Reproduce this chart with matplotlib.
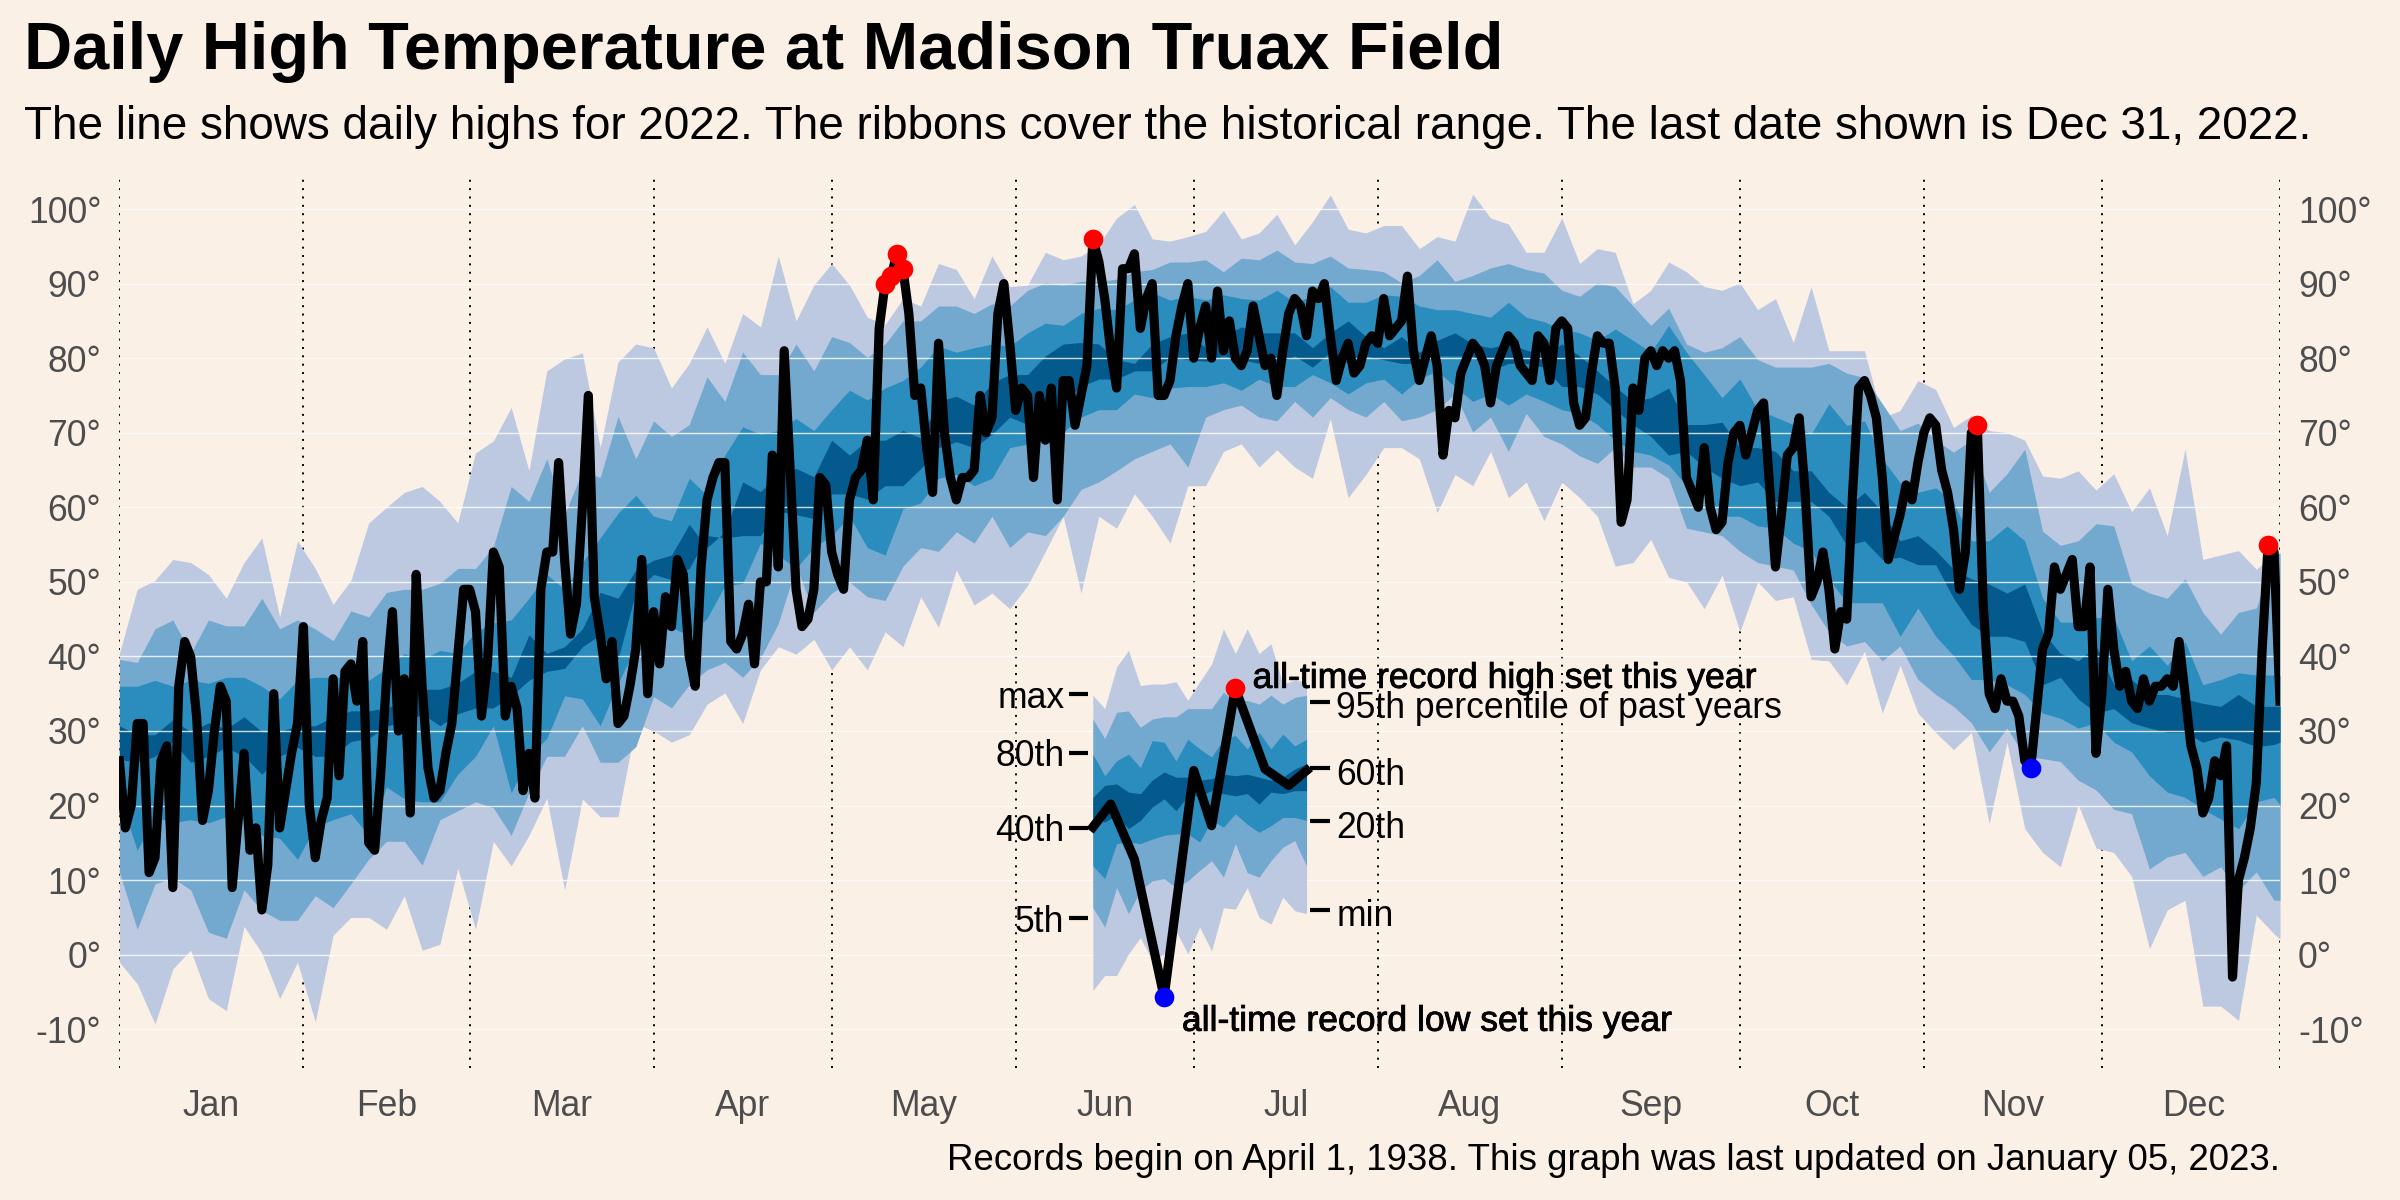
import numpy as np
import matplotlib
matplotlib.use("Agg")
import matplotlib.pyplot as plt
import matplotlib.patheffects as pe

plt.rcParams['font.family'] = ['Liberation Sans', 'DejaVu Sans']

BG = "linen"
COL_RANGE, COL_90, COL_60, COL_20 = "#bdc9e1", "#74a9cf", "#2b8cbe", "#045a8d"

month_names = ["Jan", "Feb", "Mar", "Apr", "May", "Jun", "Jul", "Aug", "Sep", "Oct", "Nov", "Dec"]
month_lengths = [31, 28, 31, 30, 31, 30, 31, 31, 30, 31, 30, 31]
y_ticks = [-10, 0, 10, 20, 30, 40, 50, 60, 70, 80, 90, 100]

# daily highs for 2022
high_2022 = [
    26, 17, 20, 31, 31, 11, 13, 26, 28, 9, 36, 42, 40, 32, 18, 22, 30, 36, 34, 9,
    18, 27, 14, 17, 6, 12, 35, 17, 22, 27, 31, 44, 20, 13, 18, 21, 37, 24, 38, 39,
    34, 42, 15, 14, 24, 37, 46, 30, 37, 19, 51, 36, 25, 21, 22, 27, 31, 40, 49, 49,
    46, 32, 39, 54, 52, 32, 36, 33, 22, 27, 21, 49, 54, 54, 66, 53, 43, 47, 60, 75,
    48, 43, 37, 42, 31, 32, 36, 41, 53, 35, 46, 39, 48, 44, 53, 51, 40, 36, 52, 61,
    64, 66, 66, 42, 41, 43, 47, 39, 50, 50, 67, 52, 81, 65, 49, 44, 45, 49, 64, 63,
    54, 51, 49, 61, 64, 65, 69, 61, 84, 90, 91, 94, 92, 86, 75, 76, 68, 62, 82, 70,
    64, 61, 64, 64, 65, 75, 70, 72, 86, 90, 82, 73, 76, 75, 64, 75, 69, 76, 61, 77,
    77, 71, 75, 79, 96, 93, 88, 81, 76, 92, 92, 94, 84, 88, 90, 75, 75, 77, 83, 87,
    90, 80, 84, 87, 80, 89, 81, 85, 80, 79, 81, 87, 83, 79, 80, 75, 81, 86, 88, 87,
    83, 89, 88, 90, 83, 77, 80, 82, 78, 79, 82, 83, 82, 88, 83, 84, 85, 91, 81, 77,
    80, 83, 79, 67, 73, 72, 78, 80, 82, 81, 79, 74, 79, 81, 83, 82, 79, 78, 77, 83,
    82, 77, 84, 85, 84, 74, 71, 72, 78, 83, 82, 82, 76, 58, 61, 76, 73, 80, 81, 79,
    81, 80, 81, 77, 64, 62, 60, 68, 60, 57, 58, 66, 70, 71, 67, 70, 73, 74, 63, 52,
    59, 67, 68, 72, 62, 48, 50, 54, 49, 41, 46, 45, 62, 76, 77, 75, 72, 64, 53, 56,
    59, 63, 61, 66, 70, 72, 71, 65, 62, 57, 49, 54, 70, 71, 47, 35, 33, 37, 34, 34,
    32, 26, 25, 33, 41, 43, 52, 49, 51, 53, 44, 44, 52, 27, 35, 49, 41, 36, 38, 34,
    33, 37, 34, 36, 36, 37, 36, 42, 35, 28, 25, 19, 21, 26, 24, 28, -3, 10, 13, 17,
    23, 41, 55, 54, 34,
]
record_high_days = [129, 130, 131, 132, 164, 313, 362]
record_low_days = [322]

# historical bands, read every third day
band_days = list(range(0, 364, 3)) + [364]
hist_max = [
    40.4, 49, 50.2, 53, 52.6, 51, 47.8, 52.6, 55.9, 45.3, 55.5, 51.8, 47, 50.2, 57.9, 60, 62, 62.8, 60.8, 57.9,
    67.3, 68.9, 73.4, 64.9, 78.3, 79.9, 80.7, 68, 79.5,
    81.9, 81.4, 76, 79.3, 84.2, 79.3, 86, 84.2, 93.7, 85, 89.8, 92.7, 89.8, 85.5, 84.5, 88, 87, 92.7, 91.9, 88,
    93.7, 89.6, 89.8, 94.2, 93.2, 93.7, 95.2, 98.8, 100.6, 96, 95.7, 96.3, 97,
    99.8, 96, 96.8, 99.3, 95.2, 98.3, 101.9, 97.3, 96.8, 97.8, 97.8, 94.7, 96.3, 95.7, 102, 98.8, 98, 94.2, 94.2,
    98.8, 92.7, 94.7, 94.2, 87.3, 89.1, 92.9, 91.6, 89.6, 89.1, 90.1, 86.5, 88, 82.1, 89.6,
    81, 81, 81, 72, 73, 77, 75.8, 70.7, 72.3, 70.3, 70, 69, 64.2, 63.9, 64.9, 62.3, 64.5, 59.4, 62.6, 56.2, 67.8,
    53, 53.6, 54.2, 51.7, 53.6, 53.6,
]
hist_p95 = [
    39.6, 39.2, 43.7, 44.9, 40.4, 44.9, 44.1, 44.1, 47.8, 43.7, 44.9, 43.7, 42.1, 46.1, 45.3, 48.6, 49, 49, 49.8,
    51.8, 51.8, 54.7, 62.8, 60.8, 66.5, 59, 64.9, 64, 72.2,
    66.5, 71.6, 69.5, 71.1, 77.5, 74.2, 80.8, 77.8, 77.8, 81.9, 78.3, 82.9, 82.1, 80.1, 81.9, 85, 85, 87, 87,
    86, 87.3, 87, 89.1, 90.1, 89.8, 90.3, 90.3, 90.6, 91.6, 91.9, 92.9, 92.9, 93.2,
    91.6, 93.4, 93.2, 94.5, 92.9, 92.7, 93.7, 92.1, 91.9, 91.6, 90.1, 91.1, 93.2, 90.3, 91.1, 92.1, 92.7, 91.9, 91.4,
    89.1, 88.3, 90.1, 89.6, 87, 84.4, 86.7, 81.9, 80.8, 81.4, 82.9, 79.8, 78.8, 78.8, 78.8,
    79.3, 78, 77.4, 73.9, 70.3, 71.3, 69, 67.4, 69, 62, 64.5, 67.8, 56.8, 54.9, 55.5, 57.8, 57.5, 49.7, 48.5, 47.8,
    50.4, 45.9, 43, 45.9, 46.5, 53.6, 53.9,
]
hist_p80 = [
    36, 36, 36.8, 36, 36.8, 36.4, 37.2, 37.2, 36, 34.3, 36.8, 37.2, 37.2, 37.2, 36.8, 38.4, 40.4, 39.6, 40.8, 40.4,
    43.3, 44.5, 44.9, 47.8, 51, 49, 52.6, 55.9, 59.2,
    61.6, 58.8, 58.2, 63.9, 61.6, 67, 70.8, 69.8, 70.3, 71.9, 70.3, 73.1, 75.7, 74.4, 76, 77, 78.8, 81.6, 80.8, 81.4,
    81.9, 81.6, 83.4, 84.7, 84.4, 86, 86.7, 86.5, 87.8, 88.8, 87.8, 88.3, 87.8,
    88.5, 88, 87.8, 89.1, 87.5, 88.3, 89.6, 87.5, 87.5, 88.5, 88.3, 87, 86.5, 86.5, 86, 85.5, 87.5, 85.5, 84.9, 83.9,
    83.4, 82.4, 83.9, 82.4, 80.8, 84.4, 80.8, 77.8, 74.7, 77.2, 73.1, 72.1, 71.1, 69.8,
    73.9, 71, 71.6, 66.5, 63.3, 62, 62.6, 60.7, 55.5, 55.5, 57.5, 55.5, 47.8, 44.6, 44.6, 45.2, 45.2, 39.4, 41.4, 38.8,
    42, 36.2, 36.9, 37.8, 37.5, 37.5, 37.5,
]
hist_p60 = [
    30.7, 29.5, 29.5, 31.5, 29.9, 31.1, 30.3, 31.9, 29.9, 29.9, 30.7, 30.7, 31.9, 32.7, 32.7, 33.1, 33.9, 35.6, 35.6,
    36.4, 38, 38, 37.2, 42.9, 40.4, 41.3, 43.7, 48.6, 47.8,
    51.6, 52.9, 53.6, 57.7, 54.6, 56.7, 63.4, 62.1, 64.4, 65.2, 64.1, 69, 67, 69, 69, 70.3, 69.3, 74.2, 74.9, 73.7,
    76.7, 77.8, 77.8, 80.3, 81.9, 82.1, 81.9, 79.8, 79.3, 81.9, 82.9, 83.4, 81.4,
    82.9, 84.2, 83.4, 83.4, 83.4, 81.4, 83.4, 85, 82.9, 81.4, 82.9, 80.8, 82.4, 83.4, 81.9, 81.4, 81.9, 81.1, 80.3,
    81.9, 80.3, 78.3, 76.2, 74.2, 74.7, 76, 71.1, 71.1, 71.4, 68, 68, 67.5, 64.9, 64.9,
    62, 60, 62, 59.4, 55.5, 56.2, 54.2, 51.7, 50.4, 49.7, 48.5, 49.7, 43.3, 40.4, 39.4, 41.4, 36.2, 36.9, 34.9, 34.9,
    34.3, 33.7, 33.3, 34.9, 33.3, 33.3, 33.3,
]
hist_p40 = [
    26.2, 25.8, 26.6, 28.6, 25.8, 26.6, 27.8, 26.6, 24.2, 26.6, 27.8, 26.6, 26.6, 28.6, 29, 30.7, 31.1, 32.3, 30.7,
    32.3, 33.1, 33.1, 34.7, 36.8, 38, 38.4, 41.3, 42.9, 39.6,
    48.7, 51, 50.3, 51.8, 56.2, 55.9, 56.2, 56.2, 59.5, 59, 58.5, 61.8, 61.8, 61.1, 62.9, 62.9, 65.2, 68, 68.8, 68,
    69.8, 72.1, 71.1, 71.6, 74.2, 76.2, 77.2, 77.2, 78.3, 78.3, 80.1, 79.8, 79.6,
    80.3, 79.8, 79.3, 79.3, 80.3, 78.8, 80.8, 79.3, 80.3, 79.8, 79.3, 79.3, 80.3, 80.3, 80.3, 78.3, 79.3, 79.3, 78.8,
    76.2, 76.2, 75.2, 73.1, 71.1, 69.5, 67, 67.5, 65.4, 63.9, 62.9, 63.4, 60.8, 60.8, 60.8,
    58.8, 54.9, 55.5, 53, 53.3, 52.3, 52.3, 47.8, 44.3, 42.7, 42.7, 42, 36.2, 37.2, 34.3, 32.4, 33, 31.1, 30.4, 29.8,
    29.8, 28.5, 29.2, 28.8, 27.9, 28.2, 28.5,
]
hist_p20 = [
    21.3, 14, 18.5, 17.7, 18.1, 17.7, 18.5, 18.1, 16, 15.6, 12.8, 17.2, 18.1, 18.9, 16, 22.5, 20.9, 20.5, 20.5, 24.2,
    26.6, 30.7, 21.7, 26.6, 29, 34.7, 34.3, 30.7, 36.4,
    41.3, 44.9, 43.9, 42.8, 45.1, 49.5, 49.8, 55.2, 53.6, 51.8, 54.6, 56.2, 58.8, 54.6, 53.6, 59.8, 60.6, 63.9, 64.4,
    62.9, 63.9, 68, 68.5, 69, 70.1, 72.1, 73.1, 73.1, 75.2, 74.7, 76, 76.2, 76.2,
    76.7, 75.7, 77.2, 76.2, 76.2, 77.8, 76.7, 75.2, 76.7, 77.2, 75.2, 77.2, 78.3, 76.2, 74.2, 75.2, 73.7, 75.2, 74.2,
    73.1, 72.6, 71.1, 69, 67.5, 67, 65.7, 62.9, 62.4, 58.8, 58.8, 57.5, 57.2, 55.2, 54.1,
    50.4, 47.2, 47.2, 47.2, 42.7, 46.5, 42.7, 40.1, 36.9, 36.9, 36.2, 34.9, 32.4, 31.7, 30.4, 31.1, 28.5, 27.2, 24,
    21.8, 21.1, 19.5, 18.2, 16.9, 20.5, 21.1, 20.1,
]
hist_p5 = [
    11.1, 3.4, 9.5, 10.3, 8.7, 3, 2.2, 8.7, 5.9, 4.6, 4.6, 7.9, 6.3, 9.5, 12.8, 15.2, 15.2, 12, 18.1, 19.3, 20.5, 19.7,
    16, 21.7, 26.6, 26.6, 30.7, 25.8, 25.8,
    27.9, 34.6, 33.1, 36.2, 38.2, 39.2, 37.2, 39.8, 44.4, 52.1, 45.9, 48.5, 50, 48, 47.5, 52.1, 54.6, 54.1, 56.7, 55.2,
    58.8, 54.6, 56.7, 56.2, 58.8, 62.4, 63.4, 64.9, 66.5, 67.5, 68.5, 65.4, 72.1,
    73.1, 73.7, 72.1, 71.6, 74.2, 72.1, 74.7, 73.1, 72.1, 74.2, 71.6, 72.1, 73.1, 75.2, 70.1, 72.1, 67.5, 72.6, 69.5,
    68.5, 66.9, 65.9, 68, 65.4, 65.4, 63.9, 57.2, 56.7, 56.2, 54.1, 52.6, 52.1, 51.6, 47,
    43.3, 41.4, 42, 39.4, 41.4, 36.9, 34.9, 33.3, 31.1, 27.2, 30.4, 26.6, 26.3, 25.9, 23.4, 22.1, 19.5, 18.9, 11.5,
    13.1, 13.7, 10.5, 11.8, 8.6, 11.1, 7.3, 7.3,
]
hist_min = [
    -1, -3.9, -9.3, -1.9, 0.6, -5.9, -7.5, 3.8, 0.2, -5.9, -1, -9, 2.6, 5, 5, 3.4, 7.9, 0.6, 1.4, 11.6, 3.4, 15.2, 11.9,
    16, 21, 8.7, 20.9, 18.5, 18.5,
    31, 30, 28.5, 29.5, 33.6, 35.1, 31, 38.2, 41.3, 40.3, 42.3, 38.2, 41.3, 38.2, 43.3, 41.3, 48, 43.9, 51.6, 46.9,
    48.5, 46.4, 49.5, 54.1, 58.8, 48.5, 58.8, 57.2, 61.8, 58.8, 55.2, 62.9, 62.9,
    67.5, 68.5, 65.4, 67.7, 65.4, 63.9, 71.9, 61.3, 64.4, 68, 68, 66.5, 59.3, 64.4, 62.9, 67.5, 61.3, 63.4, 58.2, 63.4,
    61.3, 58.8, 52.1, 52.6, 55.7, 50.6, 50, 46.4, 50.9, 43.3, 50, 47.5, 48, 39.6,
    39.4, 36.2, 40.7, 32.4, 38.8, 32.4, 29.8, 27.5, 29.8, 17.6, 28.5, 16.9, 13.7, 11.8, 20.1, 14.3, 13.7, 10.5, 0.8, 6,
    7.3, -6.9, -6.9, -8.8, 5.3, 2.8, 2.1,
]

# legend in the middle of the plot
key_days = list(range(164, 201, 2))
key_max = [34.8, 33, 38.6, 40.8, 36.1, 36.3, 36.3, 36.6, 34.1, 36.6, 39, 43.7, 40.4, 43.7, 40.4, 41.7, 36.3, 36.8, 36.6]
key_p95 = [31.6, 29, 32.5, 32.7, 30.5, 31.6, 31.9, 31.9, 33, 33, 33, 35.2, 33.9, 34.1, 33.6, 34.8, 33.6, 34.5, 34.8]
key_p80 = [26.9, 24, 26, 26.9, 25.1, 28.7, 28.5, 26, 28.9, 27.6, 26.5, 28.9, 29.4, 27.6, 29.8, 27.6, 29.6, 28, 28.9]
key_p60 = [21.1, 22.7, 22.9, 21.8, 21.6, 23.4, 24.5, 23.8, 23.8, 23.4, 23.6, 24.2, 24, 24.2, 23.8, 23.4, 23.8, 24.9, 25.6]
key_p40 = [18.4, 17.8, 18.7, 16.9, 18, 19.8, 20.9, 19.3, 21.3, 21.3, 22, 21.6, 21.3, 21.6, 20.2, 21.8, 21.6, 22, 22]
key_p20 = [11.9, 10.2, 14.9, 15.1, 14.9, 15.5, 16, 16.2, 16.2, 15.1, 18, 17.1, 18.9, 17.5, 16.4, 17.3, 18.4, 18.4, 18]
key_p5 = [6.3, 3.7, 9, 5.5, 8.6, 9.9, 10.2, 9, 9.9, 11.3, 12.6, 10.4, 14.9, 11, 10.4, 12.6, 14.4, 15.3, 11.9]
key_min = [-4.8, -2.8, -2.8, 0.1, 2.3, -0.8, 0.1, 3.2, 0.1, 3.7, 0.5, 6.3, 6.1, 9, 5, 4.1, 7.7, 5.9, 5.5]
key_line_days = [164, 167, 171, 176, 181, 184, 188, 193, 197, 200]
key_line_vals = [17.1, 20.2, 12.8, -5.7, 24.7, 17.3, 35.7, 24.9, 22.7, 24.7]
key_left_labels = ["max", "80th", "40th", "5th"]
key_left_y = [34.9, 27.1, 17, 4.9]
key_right_labels = ["95th percentile of past years", "60th", "20th", "min"]
key_right_y = [33.9, 25, 17.9, 6]

fig = plt.figure(figsize=(12, 6), dpi=200, facecolor=BG)
ax = fig.add_axes([119.4 / 2400, 1 - 1068 / 1200, (2280 - 119.4) / 2400, (1068 - 177) / 1200])
ax.set_facecolor(BG)

# month boundaries sit under everything
month_starts = np.concatenate([[0], np.cumsum(month_lengths)[:-1]])
for d in list(month_starts) + [364]:
    ax.axvline(d, color="black", lw=0.7, ls=(0, (1, 3.3)), zorder=1)

ax.fill_between(band_days, hist_min, hist_max, color=COL_RANGE, lw=0, zorder=2)
ax.fill_between(band_days, hist_p5, hist_p95, color=COL_90, lw=0, zorder=2.1)
ax.fill_between(band_days, hist_p20, hist_p80, color=COL_60, lw=0, zorder=2.2)
ax.fill_between(band_days, hist_p40, hist_p60, color=COL_20, lw=0, zorder=2.3)

for v in y_ticks:
    ax.axhline(v, color="white", lw=0.5, alpha=0.8, zorder=3)

# legend
ax.fill_between(key_days, key_min, key_max, color=COL_RANGE, lw=0, zorder=4)
ax.fill_between(key_days, key_p5, key_p95, color=COL_90, lw=0, zorder=4.1)
ax.fill_between(key_days, key_p20, key_p80, color=COL_60, lw=0, zorder=4.2)
ax.fill_between(key_days, key_p40, key_p60, color=COL_20, lw=0, zorder=4.3)
ax.plot(key_line_days, key_line_vals, color="black", lw=3.3, solid_joinstyle="round", zorder=5)
ax.scatter(key_line_days[6], key_line_vals[6], s=50, color="red", lw=0, zorder=6)
ax.scatter(key_line_days[3], key_line_vals[3], s=50, color="blue", lw=0, zorder=6)

for lab, v in zip(key_left_labels, key_left_y):
    ax.plot([160, 163.2], [v, v], color="black", lw=1.5, zorder=5, solid_capstyle="butt")
    ax.text(159.2, v, lab, ha="right", va="center_baseline", fontsize=12.8, color="black", zorder=7)
for lab, v in zip(key_right_labels, key_right_y):
    ax.plot([200.6, 203.9], [v, v], color="black", lw=1.5, zorder=5, solid_capstyle="butt")
    ax.text(205, v - 0.4, lab, ha="left", va="center_baseline", fontsize=12.8, color="black", zorder=7)

bold_ish = [pe.withStroke(linewidth=0.3, foreground="black")]
ax.text(190.9, 37.6, "all-time record high set this year", ha="left", va="center_baseline", fontsize=12.8,
        color="black", zorder=7, path_effects=bold_ish)
ax.text(179, -8.4, "all-time record low set this year", ha="left", va="center_baseline", fontsize=12.8,
        color="black", zorder=7, path_effects=bold_ish)

# this year's line and records
ax.plot(range(len(high_2022)), high_2022, color="black", lw=3.3, solid_joinstyle="round", zorder=8)
ax.scatter(record_high_days, [high_2022[d] for d in record_high_days], s=50, color="red", lw=0, zorder=9, clip_on=False)
ax.scatter(record_low_days, [high_2022[d] for d in record_low_days], s=50, color="blue", lw=0, zorder=9, clip_on=False)

ax.set_xlim(0, 364)
ax.set_ylim(-15.2, 104.3)
ax.set_yticks(y_ticks)
ax.set_yticklabels([f"{v}°" for v in y_ticks])
ax.set_xticks(month_starts + np.array(month_lengths) / 2)
ax.set_xticklabels(month_names)
ax.tick_params(axis="y", length=0, labelleft=True, labelright=True, labelsize=12.8, labelcolor="#4d4d4d", pad=6.5)
ax.tick_params(axis="x", length=0, labelsize=12.8, labelcolor="#4d4d4d", pad=7.5)
for s in ax.spines.values():
    s.set_visible(False)

fig.text(24 / 2400, 1 - 52 / 1200, "Daily High Temperature at Madison Truax Field",
         fontsize=24, fontweight="bold", va="center", ha="left", color="black")
fig.text(24 / 2400, 1 - 127 / 1200,
         "The line shows daily highs for 2022. The ribbons cover the historical range. The last date shown is Dec 31, 2022.",
         fontsize=16.5, va="center", ha="left", color="black")
fig.text(2280 / 2400, 1 - 1160 / 1200,
         "Records begin on April 1, 1938. This graph was last updated on January 05, 2023.",
         fontsize=13.2, va="center", ha="right", color="black")

fig.savefig("out.png", dpi=200, facecolor=BG)
